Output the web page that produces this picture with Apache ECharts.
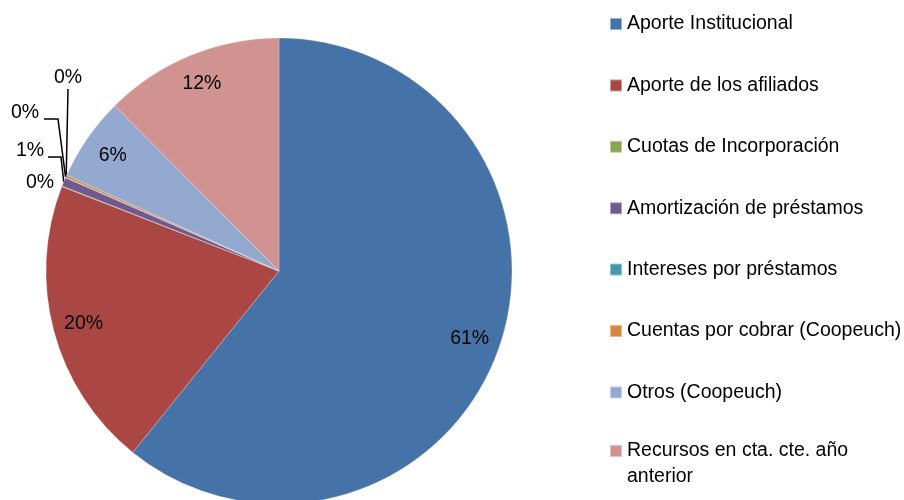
<!DOCTYPE html>
<html><head><meta charset="utf-8">
<script src="https://cdn.jsdelivr.net/npm/echarts@6/dist/echarts.min.js"></script>
<style>html,body{margin:0;padding:0;background:#fff}#c{width:904px;height:500px}</style>
</head><body><div id="c"></div>
<script>
const categories = ['Aporte Institucional','Aporte de los afiliados','Cuotas de Incorporación','Amortización de préstamos','Intereses por préstamos','Cuentas por cobrar (Coopeuch)','Otros (Coopeuch)','Recursos en cta. cte. año anterior'];
const values = [60.8, 20.1, 0.05, 0.6, 0.05, 0.15, 5.8, 12.45];
const colors = ['#4572A7','#AA4643','#89A54E','#71588F','#4198AF','#DB843D','#93A9CF','#D19392'];
const insideLabelIdx = [0,1,6,7];

const FONT = "'Liberation Sans',Arial,sans-serif";
const FS = 19.5;
const CX = 279, CY = 271, R = 233;
// leader label placement for tiny slices (text center, line elbow)
const outsideLabels = {
  2: {x: 40, y: 183, line: null},
  3: {x: 30, y: 151, line: [[48,157],[61,157]]},
  4: {x: 25, y: 113, line: [[44,119],[58,119]]},
  5: {x: 68, y: 78, line: [[68,89],[68,89]]}
};

const data = categories.map((n,i)=>({name:n, value:values[i], itemStyle:{color:colors[i]}}));
const pct = p => Math.round(p.percent) + '%';
const legendBase = {
  orient:'vertical', left:609, padding:0,
  itemWidth:12, itemHeight:12, itemGap:35.4, icon:'rect',
  textStyle:{fontFamily:FONT, fontSize:FS, color:'#000', lineHeight:26, width:282, overflow:'break'}
};

const chart = echarts.init(document.getElementById('c'), null, {renderer:'canvas'});
chart.setOption({
  animation:false,
  legend:[
    Object.assign({}, legendBase, {top:11, data: categories.slice(0,7)}),
    Object.assign({}, legendBase, {top:412, data: [categories[7]], formatter: n => '\n' + n})
  ],
  series:[
    {
      type:'pie', center:[CX,CY], radius:[0,R], startAngle:90, clockwise:true,
      avoidLabelOverlap:false, silent:true,
      itemStyle:{borderColor:'rgba(255,255,255,0.45)', borderWidth:0.5},
      data: data.map((d,i)=>Object.assign({}, d, {
        label:{show: outsideLabels[i]!==undefined},
        labelLine:{show: !!(outsideLabels[i] && outsideLabels[i].line)}
      })),
      label:{position:'outside', formatter:pct, fontFamily:FONT, fontSize:FS, color:'#000'},
      labelLine:{show:true, length:10, length2:10, lineStyle:{color:'#000', width:1.5}},
      labelLayout: function(p){
        const o = outsideLabels[p.dataIndex];
        if(!o) return {};
        const res = {x:o.x, y:o.y, align:'center', verticalAlign:'middle'};
        if(o.line && p.labelLinePoints){
          const start = p.labelLinePoints[0];
          res.labelLinePoints = [o.line[0], o.line[1], start];
        }
        return res;
      }
    },
    {
      type:'pie', center:[CX,CY], radius:[R*0.71,R], startAngle:90, clockwise:true,
      silent:true, avoidLabelOverlap:false,
      itemStyle:{color:'rgba(0,0,0,0)'},
      data: data.map((d,i)=>({name:d.name, value:d.value, itemStyle:{color:'rgba(0,0,0,0)'},
        label:{show: insideLabelIdx.includes(i)}})),
      label:{position:'inside', formatter:pct, fontFamily:FONT, fontSize:FS, color:'#000'},
      labelLine:{show:false}
    }
  ]
});
</script></body></html>
